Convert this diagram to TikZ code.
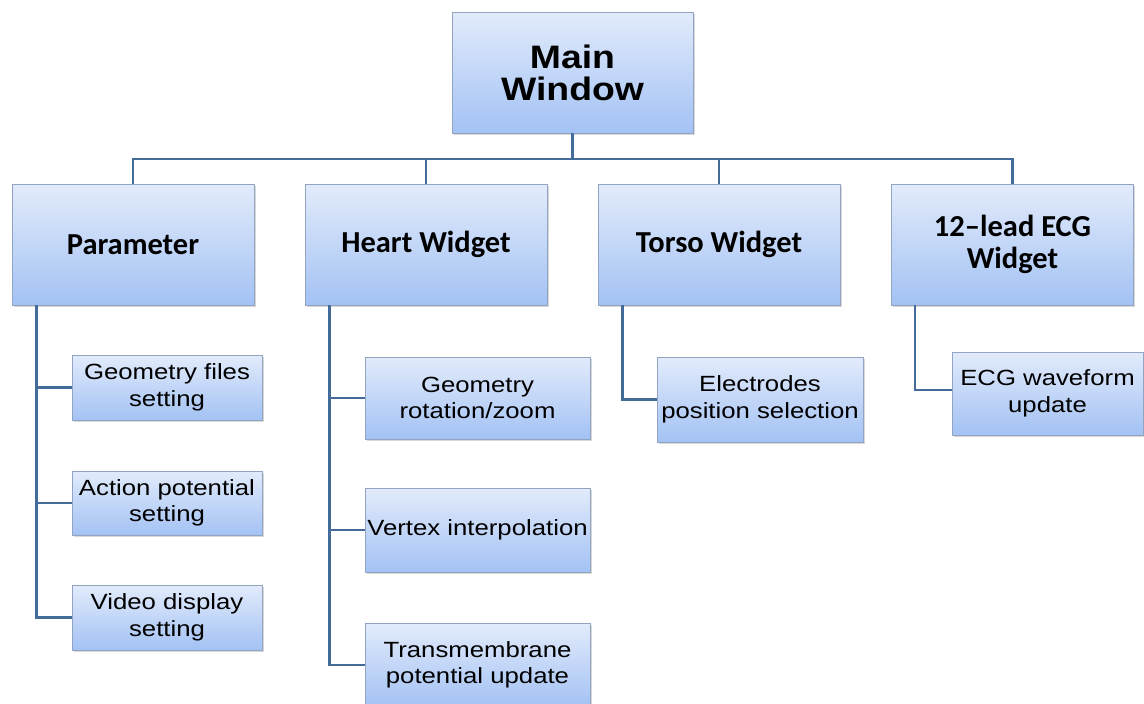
\documentclass[tikz,border=0pt]{standalone}
\usepackage{fontspec}
\setmainfont{Liberation Sans}
\newfontfamily\fontTop[FakeStretch=1.15]{Liberation Sans}
\newfontfamily\fontMid{Carlito}
\newfontfamily\fontLeaf[FakeStretch=1.17]{Liberation Sans}
\usetikzlibrary{shadows}
\definecolor{boxtop}{RGB}{226,235,251}
\definecolor{boxbot}{RGB}{163,194,244}
\definecolor{boxline}{RGB}{145,165,195}
\definecolor{connline}{RGB}{68,108,155}
\begin{document}
\begin{tikzpicture}[x=1pt,y=-1pt,
  box/.style={draw=boxline, line width=0.7pt, top color=boxtop, bottom color=boxbot,
    align=center, inner sep=0pt, drop shadow={shadow xshift=1.5pt, shadow yshift=-1.5pt, opacity=0.3}},
  topbox/.style={box, font=\fontTop\fontsize{32.5}{32}\selectfont\bfseries},
  midbox/.style={box, font=\fontMid\fontsize{30.5}{32}\selectfont\bfseries, minimum width=242pt, minimum height=121pt},
  leafbox/.style={box, font=\fontLeaf\fontsize{22}{26.5}\selectfont},
  conn/.style={draw=connline, line width=2.6pt}]
\useasboundingbox (0,0) rectangle (1144,704);
\clip (0,0) rectangle (1144,704);
\fill[white] (0,0) rectangle (1144,704);

% main
\node[topbox, minimum width=241pt, minimum height=121pt] (main) at (572.5,72.5) {Main\\Window};

% level 1
\node[midbox] (p) at (133,244.5) {Parameter};
\node[midbox] (h) at (426,244.5) {Heart Widget};
\node[midbox] (t) at (719,244.5) {Torso Widget};
\node[midbox] (e) at (1012.5,244.5) {12–lead ECG\\Widget};

% level 2: parameter
\node[leafbox, minimum width=190pt, minimum height=65pt] (p1) at (167,387.5) {Geometry files\\setting};
\node[leafbox, minimum width=190pt, minimum height=64pt] (p2) at (167,503) {Action potential\\setting};
\node[leafbox, minimum width=190pt, minimum height=65pt] (p3) at (167,617.5) {Video display\\setting};

% level 2: heart
\node[leafbox, minimum width=225pt, minimum height=82pt] (h1) at (477.5,398) {Geometry\\rotation/zoom};
\node[leafbox, minimum width=225pt, minimum height=84pt] (h2) at (477.5,530) {Vertex interpolation};
\node[leafbox, minimum width=225pt, minimum height=84pt] (h3) at (477.5,665) {Transmembrane\\potential update};

% level 2: torso
\node[leafbox, minimum width=206pt, minimum height=85pt] (t1) at (760,399.5) {Electrodes\\position selection};

% level 2: ecg
\node[leafbox, minimum width=191pt, minimum height=83pt] (e1) at (1047.5,393.5) {ECG waveform\\update};

% connectors top
\coordinate (bar) at (573,159);
\draw[conn] (main.south) -- (main.south |- bar);
\draw[conn] (p.north) -- (p.north |- bar) -| (e.north);
\draw[conn] (h.north) -- (h.north |- bar);
\draw[conn] (t.north) -- (t.north |- bar);

% trunks
\coordinate (pT) at ([xshift=25pt]p.south west);
\coordinate (hT) at ([xshift=25pt]h.south west);
\coordinate (tT) at ([xshift=25pt]t.south west);
\coordinate (eT) at ([xshift=24pt]e.south west);

\draw[conn] (pT) |- (p3.west);
\draw[conn] (p1.west) -- (p1.west -| pT);
\draw[conn] (p2.west) -- (p2.west -| pT);

\draw[conn] (hT) |- (h3.west);
\draw[conn] (h1.west) -- (h1.west -| hT);
\draw[conn] (h2.west) -- (h2.west -| hT);

\draw[conn] (tT) |- (t1.west);
\draw[conn] (eT) |- ([yshift=3.5pt]e1.west);
\end{tikzpicture}
\end{document}
